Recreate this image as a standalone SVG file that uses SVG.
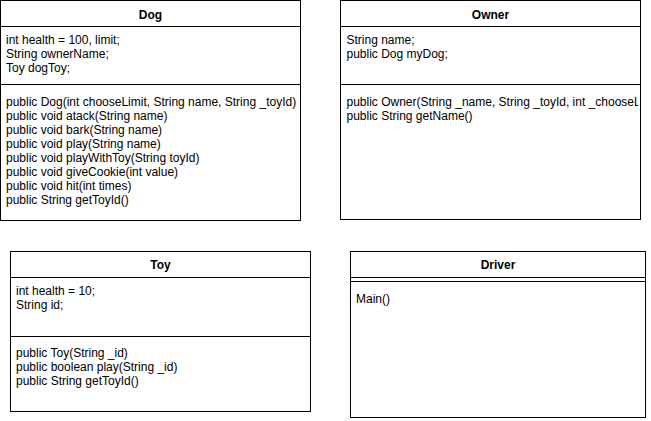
<svg xmlns="http://www.w3.org/2000/svg" width="651" height="421" viewBox="0 0 651 421">
<style>
  .box { fill: #ffffff; stroke: #000000; stroke-width: 1; }
  .ln { stroke: #000000; stroke-width: 1; fill: none; }
  .title { font-family: "Liberation Sans", Arial, Helvetica, sans-serif; font-size: 12px; font-weight: bold; text-anchor: middle; fill: #000000; }
  .txt { font-family: "Liberation Sans", Arial, Helvetica, sans-serif; font-size: 12px; fill: #000000; }
</style>
<defs>
  <clipPath id="ownerClip"><rect x="341" y="85" width="297" height="134"/></clipPath>
</defs>
<rect x="0" y="0" width="651" height="421" fill="#ffffff"/>
<g id="connectors"></g>
<g id="dog">
  <rect class="box" x="0.5" y="0.5" width="300" height="220"/>
  <line class="ln" x1="0.5" y1="26.5" x2="300.5" y2="26.5"/>
  <line class="ln" x1="0.5" y1="84.5" x2="300.5" y2="84.5"/>
  <text class="title" x="150.5" y="19">Dog</text>
  <text class="txt" x="6" y="44">int health = 100, limit;</text>
  <text class="txt" x="6" y="58">String ownerName;</text>
  <text class="txt" x="6" y="72">Toy dogToy;</text>
  <text class="txt" x="6" y="106">public Dog(int chooseLimit, String name, String _toyId)</text>
  <text class="txt" x="6" y="120">public void atack(String name)</text>
  <text class="txt" x="6" y="134">public void bark(String name)</text>
  <text class="txt" x="6" y="148">public void play(String name)</text>
  <text class="txt" x="6" y="162">public void playWithToy(String toyId)</text>
  <text class="txt" x="6" y="176">public void giveCookie(int value)</text>
  <text class="txt" x="6" y="190">public void hit(int times)</text>
  <text class="txt" x="6" y="204">public String getToyId()</text>
</g>
<g id="owner">
  <rect class="box" x="340.5" y="0.5" width="300" height="219"/>
  <line class="ln" x1="340.5" y1="26.5" x2="640.5" y2="26.5"/>
  <line class="ln" x1="340.5" y1="84.5" x2="640.5" y2="84.5"/>
  <text class="title" x="490.5" y="19">Owner</text>
  <text class="txt" x="346.5" y="44">String name;</text>
  <text class="txt" x="346.5" y="58">public Dog myDog;</text>
  <text class="txt" x="346.5" y="106" clip-path="url(#ownerClip)">public Owner(String _name, String _toyId, int _chooseL</text>
  <text class="txt" x="346.5" y="120">public String getName()</text>
</g>
<g id="toy">
  <rect class="box" x="10.5" y="251.5" width="300" height="160"/>
  <line class="ln" x1="10.5" y1="277.5" x2="310.5" y2="277.5"/>
  <line class="ln" x1="10.5" y1="336.5" x2="310.5" y2="336.5"/>
  <text class="title" x="160.5" y="269">Toy</text>
  <text class="txt" x="16" y="295">int health = 10;</text>
  <text class="txt" x="16" y="309">String id;</text>
  <text class="txt" x="16" y="357">public Toy(String _id)</text>
  <text class="txt" x="16" y="371">public boolean play(String _id)</text>
  <text class="txt" x="16" y="385">public String getToyId()</text>
</g>
<g id="driver">
  <rect class="box" x="350.5" y="251.5" width="295" height="166"/>
  <line class="ln" x1="350.5" y1="277.5" x2="645.5" y2="277.5"/>
  <line class="ln" x1="350.5" y1="281.5" x2="645.5" y2="281.5"/>
  <text class="title" x="498" y="269">Driver</text>
  <text class="txt" x="356" y="303">Main()</text>
</g>
</svg>
